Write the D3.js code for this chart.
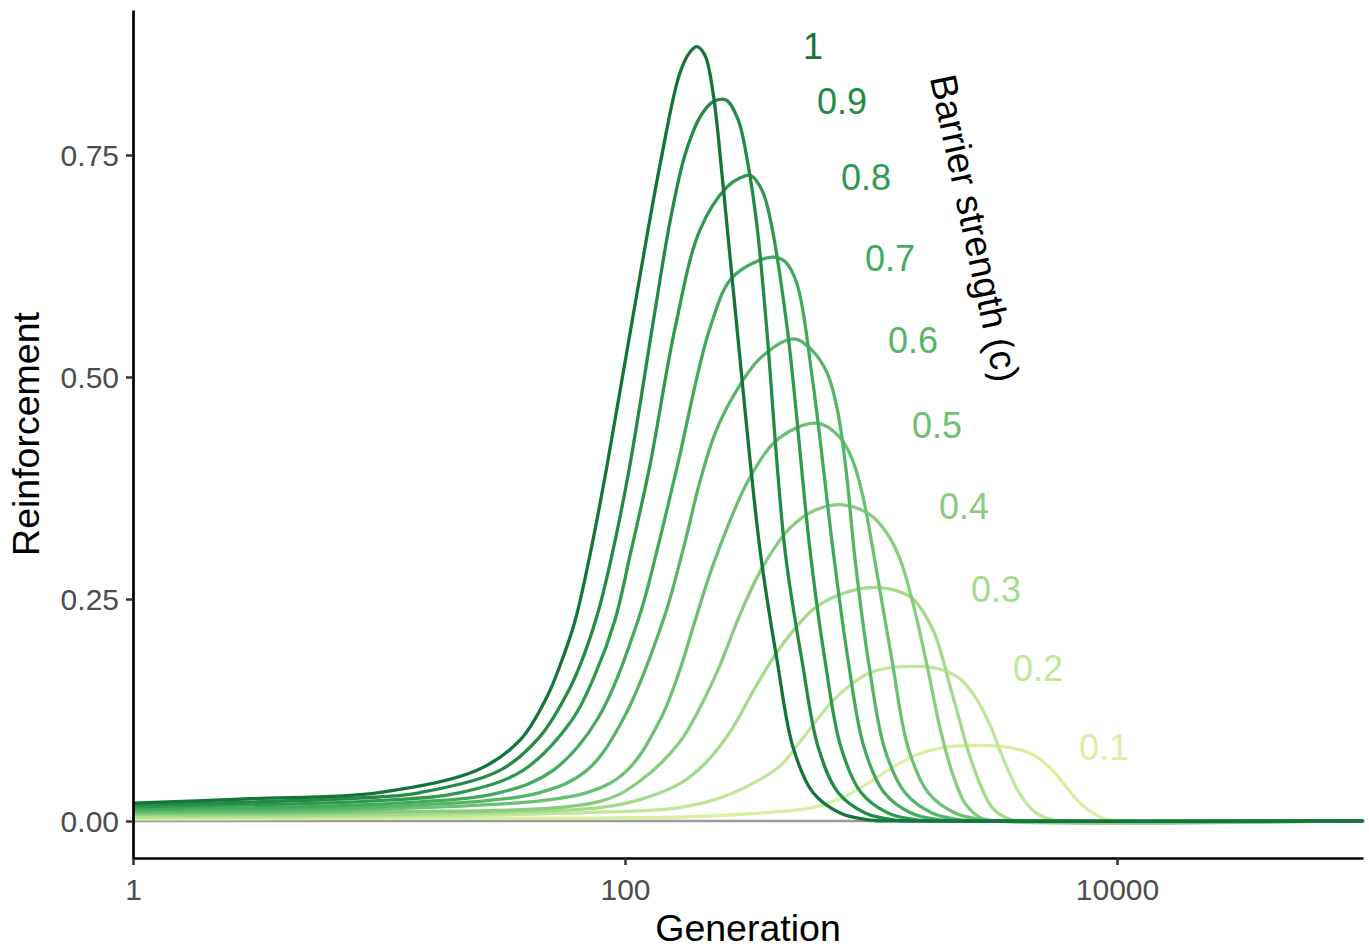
<!DOCTYPE html>
<meta charset="utf-8">
<style>
  body { margin: 0; background: #fff; }
  text { font-family: "Liberation Sans", Arial, sans-serif; }
  .tick text { fill: #4d4d4d; font-size: 30px; }
  .tick line { stroke: #333; stroke-width: 2.5; }
  .domain { stroke: #000; stroke-width: 2.7; }
</style>
<script src="https://d3js.org/d3.v7.min.js"></script>
<body>
<script>

// barrier strengths (c), one curve each: [generation, reinforcement]
var strengths = [0.1, 0.2, 0.3, 0.4, 0.5, 0.6, 0.7, 0.8, 0.9, 1];

var c01 = [[1,0.002],[10,0.003],[167,0.0045],[354,0.009],[581,0.015],[748,0.025],[991,0.044],[1253,0.062],
  [1582,0.076],[2000,0.083],[2525,0.085],[3343,0.084],[4036,0.080],[4733,0.072],[5341,0.060],[5867,0.047],
  [7076,0.020],[7986,0.009],[8770,0.003],[10280,0],[100000,0]];
var c02 = [[1,0.004],[10,0.005],[79,0.010],[167,0.015],[267,0.030],[427,0.062],[500,0.085],[581,0.108],
  [681,0.132],[799,0.150],[954,0.165],[1161,0.172],[1553,0.174],[1962,0.170],[2300,0.160],[2647,0.140],
  [3048,0.108],[3508,0.065],[4036,0.030],[4642,0.010],[5341,0.002],[6146,0],[100000,0]];
var c03 = [[1,0.006],[10,0.007],[79,0.015],[115,0.024],[167,0.042],[212,0.065],[267,0.100],[338,0.150],
  [427,0.195],[581,0.238],[748,0.255],[1019,0.263],[1312,0.258],[1482,0.250],[1787,0.215],[2154,0.140],
  [2600,0.062],[3135,0.014],[3673,0.002],[4227,0],[100000,0]];
var c04 = [[1,0.008],[10,0.010],[79,0.022],[115,0.045],[167,0.089],[202,0.128],[243,0.175],[293,0.232],
  [361,0.285],[469,0.330],[592,0.350],[769,0.356],[991,0.345],[1161,0.324],[1312,0.295],[1482,0.245],
  [1690,0.175],[1906,0.105],[2135,0.055],[2411,0.020],[2774,0.004],[3192,0],[100000,0]];
var c05 = [[1,0.010],[10,0.013],[70,0.032],[102,0.057],[139,0.114],[167,0.170],[189,0.218],[232,0.294],
  [322,0.387],[427,0.432],[603,0.448],[748,0.432],[845,0.405],[928,0.365],[1019,0.305],[1217,0.181],
  [1414,0.083],[1706,0.032],[2194,0.009],[2906,0.001],[3800,0],[100000,0]];
var c06 = [[1,0.012],[10,0.016],[45,0.032],[70,0.057],[98,0.114],[143,0.226],[172,0.305],[202,0.383],
  [232,0.436],[275,0.478],[354,0.521],[486,0.543],[576,0.530],[662,0.505],[728,0.465],[792,0.395],
  [861,0.295],[982,0.175],[1140,0.080],[1374,0.032],[1770,0.009],[2344,0.001],[3000,0],[100000,0]];
var c07 = [[1,0.014],[10,0.019],[31,0.032],[51,0.057],[77,0.114],[113,0.226],[135,0.305],[163,0.399],
  [222,0.556],[275,0.613],[396,0.635],[447,0.630],[500,0.605],[581,0.493],[701,0.305],[807,0.181],
  [937,0.083],[1130,0.032],[1454,0.009],[1927,0.001],[2600,0],[100000,0]];
var c08 = [[1,0.016],[10,0.023],[21.4,0.032],[38.5,0.057],[61,0.114],[75.6,0.165],[91,0.226],[106,0.305],
  [126,0.399],[160,0.556],[202,0.666],[260,0.714],[293,0.724],[325,0.727],[361,0.710],[388,0.680],
  [456,0.556],[565,0.305],[650,0.181],[755,0.083],[911,0.032],[1172,0.009],[1553,0.001],[2100,0],[100000,0]];
var c09 = [[1,0.018],[10,0.027],[14.7,0.032],[31,0.057],[45.1,0.095],[59.8,0.150],[68.8,0.190],[77.7,0.235],
  [88.6,0.300],[103.8,0.395],[132.5,0.575],[152.4,0.675],[175.3,0.750],[202,0.793],[228,0.810],[257.5,0.812],
  [288,0.790],[316,0.740],[344,0.670],[374,0.565],[447,0.305],[524,0.181],[610,0.083],[735,0.032],
  [946,0.009],[1253,0.001],[1658,0],[100000,0]];
var c10 = [[1,0.020],[3,0.025],[10,0.032],[25,0.057],[37.4,0.091],[48.2,0.140],[54.4,0.175],[62.6,0.225],
  [72.1,0.300],[84.5,0.400],[108,0.570],[139,0.740],[167,0.842],[183.8,0.866],[196,0.872],[211.5,0.862],
  [228,0.820],[250,0.718],[285,0.556],[354,0.305],[415,0.181],[482,0.083],[581,0.032],[748,0.009],
  [991,0.001],[1312,0],[100000,0]];

var curves = [c01, c02, c03, c04, c05, c06, c07, c08, c09, c10];

// where each strength label sits
var labelGen = [8854, 4774, 3222, 2388, 1855, 1482, 1195, 954, 762, 581];
var labelVal = [0.083, 0.172, 0.261, 0.354, 0.446, 0.541, 0.634, 0.725, 0.810, 0.872];

var xTicks = [1, 100, 10000];
var yTicks = [0, 0.25, 0.5, 0.75];

var width = 1369, height = 950;
var margin = {left: 133, right: 4, top: 8, bottom: 92};

var svg = d3.select("body").append("svg")
    .attr("width", width)
    .attr("height", height);

var x = d3.scaleLog()
    .domain([1, 100000])
    .range([margin.left, width - margin.right - 2]);

var y = d3.scaleLinear()
    .domain([-0.0417, 0.9133])
    .range([height - margin.bottom, margin.top + 2]);

var color = d3.scaleOrdinal()
    .domain(strengths)
    .range(["#d9f0a3", "#c2e699", "#a5da8d", "#88cc7f", "#6cc072",
            "#56b567", "#41ab5d", "#2f9a4e", "#238b45", "#13753a"]);

// zero reference line
svg.append("line")
    .attr("x1", x(1)).attr("x2", x(100000))
    .attr("y1", y(0)).attr("y2", y(0))
    .attr("stroke", "#9a9a9a")
    .attr("stroke-width", 2.5);

var line = d3.line()
    .x(function(d) { return x(d[0]); })
    .y(function(d) { return y(d[1]); })
    .curve(d3.curveCatmullRom.alpha(0.5));

svg.append("g")
  .selectAll("path")
  .data(curves)
  .enter().append("path")
    .attr("d", line)
    .attr("fill", "none")
    .attr("stroke", function(d, i) { return color(strengths[i]); })
    .attr("stroke-width", 3.3);

svg.append("g")
  .selectAll("text")
  .data(strengths)
  .enter().append("text")
    .attr("x", function(d, i) { return x(labelGen[i]); })
    .attr("y", function(d, i) { return y(labelVal[i]); })
    .attr("text-anchor", "middle")
    .attr("dy", "0.35em")
    .attr("font-size", 36)
    .attr("fill", function(d) { return color(d); })
    .text(function(d) { return d; });

// axes
var xAxis = svg.append("g")
    .attr("transform", "translate(0," + (height - margin.bottom) + ")")
    .call(d3.axisBottom(x).tickValues(xTicks).tickFormat(d3.format("d")).tickSize(7).tickSizeOuter(0).tickPadding(6));

var yAxis = svg.append("g")
    .attr("transform", "translate(" + margin.left + ",0)")
    .call(d3.axisLeft(y).tickValues(yTicks).tickFormat(d3.format(".2f")).tickSize(7).tickSizeOuter(0).tickPadding(7));

xAxis.selectAll(".tick text").attr("dy", "0.95em");
yAxis.selectAll(".tick text").attr("dy", "0.36em");

svg.append("text")
    .attr("x", (x(1) + x(100000)) / 2)
    .attr("y", 941)
    .attr("text-anchor", "middle")
    .attr("font-size", 37.5)
    .attr("fill", "#000")
    .text("Generation");

svg.append("text")
    .attr("transform", "translate(39," + ((y(-0.0417) + y(0.9133)) / 2) + ") rotate(-90)")
    .attr("text-anchor", "middle")
    .attr("font-size", 37.5)
    .attr("fill", "#000")
    .text("Reinforcement");

svg.append("text")
    .attr("transform", "translate(975,228) rotate(78)")
    .attr("text-anchor", "middle")
    .attr("dy", "0.35em")
    .attr("font-size", 37.5)
    .attr("fill", "#000")
    .text("Barrier strength (c)");

</script>
</body>
